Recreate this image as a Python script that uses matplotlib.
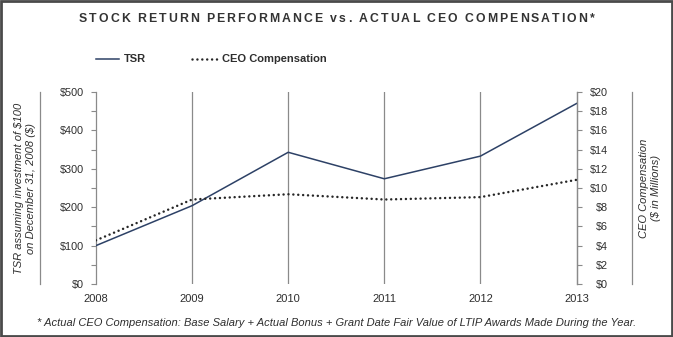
import matplotlib.pyplot as plt
from matplotlib.ticker import MultipleLocator, FuncFormatter
from matplotlib.lines import Line2D
from matplotlib.patches import Rectangle

plt.rcParams['font.family'] = ['Liberation Sans', 'DejaVu Sans']

years = [2008, 2009, 2010, 2011, 2012, 2013]
tsr = [100, 204, 343, 274, 333, 470]
ceo_comp = [4.55, 8.8, 9.35, 8.8, 9.05, 10.85]

title = 'STOCK RETURN PERFORMANCE vs. ACTUAL CEO COMPENSATION*'
footnote = ('* Actual CEO Compensation: Base Salary + Actual Bonus + Grant Date '
            'Fair Value of LTIP Awards Made During the Year.')

navy = '#2d4166'
dark = '#262626'
grid = '#8a8a8a'
text = '#2e2e2e'
dots = (0, (0.01, 1.95))

W, H = 673, 337
fig = plt.figure(figsize=(W / 100, H / 100), dpi=100)
ax = fig.add_axes([96 / W, 1 - 284 / H, 480.5 / W, 192 / H])

ax.plot(years, tsr, color=navy, lw=1.1, zorder=3)
ax.set_xlim(2008, 2013)
ax.set_ylim(0, 500)
ax.yaxis.set_major_locator(MultipleLocator(100))
ax.yaxis.set_minor_locator(MultipleLocator(50))
ax.yaxis.set_major_formatter(FuncFormatter(lambda v, p: f'${v:.0f}'))
ax.set_xticks(years)
ax.tick_params(axis='x', length=0, pad=7, labelsize=8, labelcolor=text)
ax.tick_params(axis='y', which='both', length=3.5, color=grid, width=0.8,
               pad=5, labelsize=7.8, labelcolor=text)
for y in years[1:-1]:
    ax.axvline(y, color=grid, lw=0.9, zorder=1)
for side in ['top', 'bottom']:
    ax.spines[side].set_visible(False)
for side in ['left', 'right']:
    ax.spines[side].set_color(grid)
    ax.spines[side].set_linewidth(0.9)

ax2 = ax.twinx()
ax2.plot(years, ceo_comp, color=dark, lw=1.8, linestyle=dots,
         dash_capstyle='round', zorder=3)
ax2.set_ylim(0, 20)
ax2.yaxis.set_major_locator(MultipleLocator(2))
ax2.yaxis.set_major_formatter(FuncFormatter(lambda v, p: f'${v:.0f}'))
ax2.tick_params(axis='y', length=3.5, color=grid, width=0.8, pad=19.4,
                labelsize=7.8, labelcolor=text)
for lab in ax2.get_yticklabels():
    lab.set_horizontalalignment('right')
for side in ['top', 'bottom', 'left']:
    ax2.spines[side].set_visible(False)
ax2.spines['right'].set_color(grid)
ax2.spines['right'].set_linewidth(0.9)

# axis titles with separator lines
fig.text(25 / W, 1 - 188 / H,
         'TSR assuming investment of $100\non December 31, 2008 ($)',
         rotation=90, ha='center', va='center', style='italic',
         fontsize=8, color=text, linespacing=1.15)
fig.text(650 / W, 1 - 188 / H, 'CEO Compensation\n($ in Millions)',
         rotation=90, ha='center', va='center', style='italic',
         fontsize=8, color=text, linespacing=1.15)
for x in (40, 632):
    fig.add_artist(Line2D([x / W, x / W], [1 - 92 / H, 1 - 284 / H],
                          color=grid, lw=0.9))

# title drawn letter by letter for wide tracking
renderer = fig.canvas.get_renderer()
chars = []
for ch in title:
    t = fig.text(0, 1 - 21.5 / H, ch, ha='left', va='baseline', fontsize=8.8,
                 fontweight='bold', color='#333333')
    w = t.get_window_extent(renderer).width if ch != ' ' else 3.5
    chars.append((t, w))
track = 2.0
total = sum(w for _, w in chars) + track * (len(chars) - 1)
x = (W - total) / 2
for t, w in chars:
    t.set_x(x / W)
    x += w + track

# legend
ly = 1 - 59 / H
fig.add_artist(Line2D([96 / W, 119 / W], [ly, ly], color=navy, lw=1.1))
fig.text(124 / W, ly, 'TSR', ha='left', va='center', fontsize=8,
         fontweight='bold', color=text)
fig.add_artist(Line2D([192 / W, 218 / W], [ly, ly], color=dark, lw=1.8,
                      linestyle=dots, dash_capstyle='round'))
fig.text(222 / W, ly, 'CEO Compensation', ha='left', va='center',
         fontsize=8, fontweight='bold', color=text)

# footnote
fig.text(0.5, 1 - 323 / H, footnote, ha='center', va='center',
         style='italic', fontsize=8, color=text)

fig.add_artist(Rectangle((0.0015, 0.003), 0.997, 0.994, transform=fig.transFigure,
                         fill=False, edgecolor='#4a4a4a', lw=2))

fig.savefig('out.png', dpi=100)
